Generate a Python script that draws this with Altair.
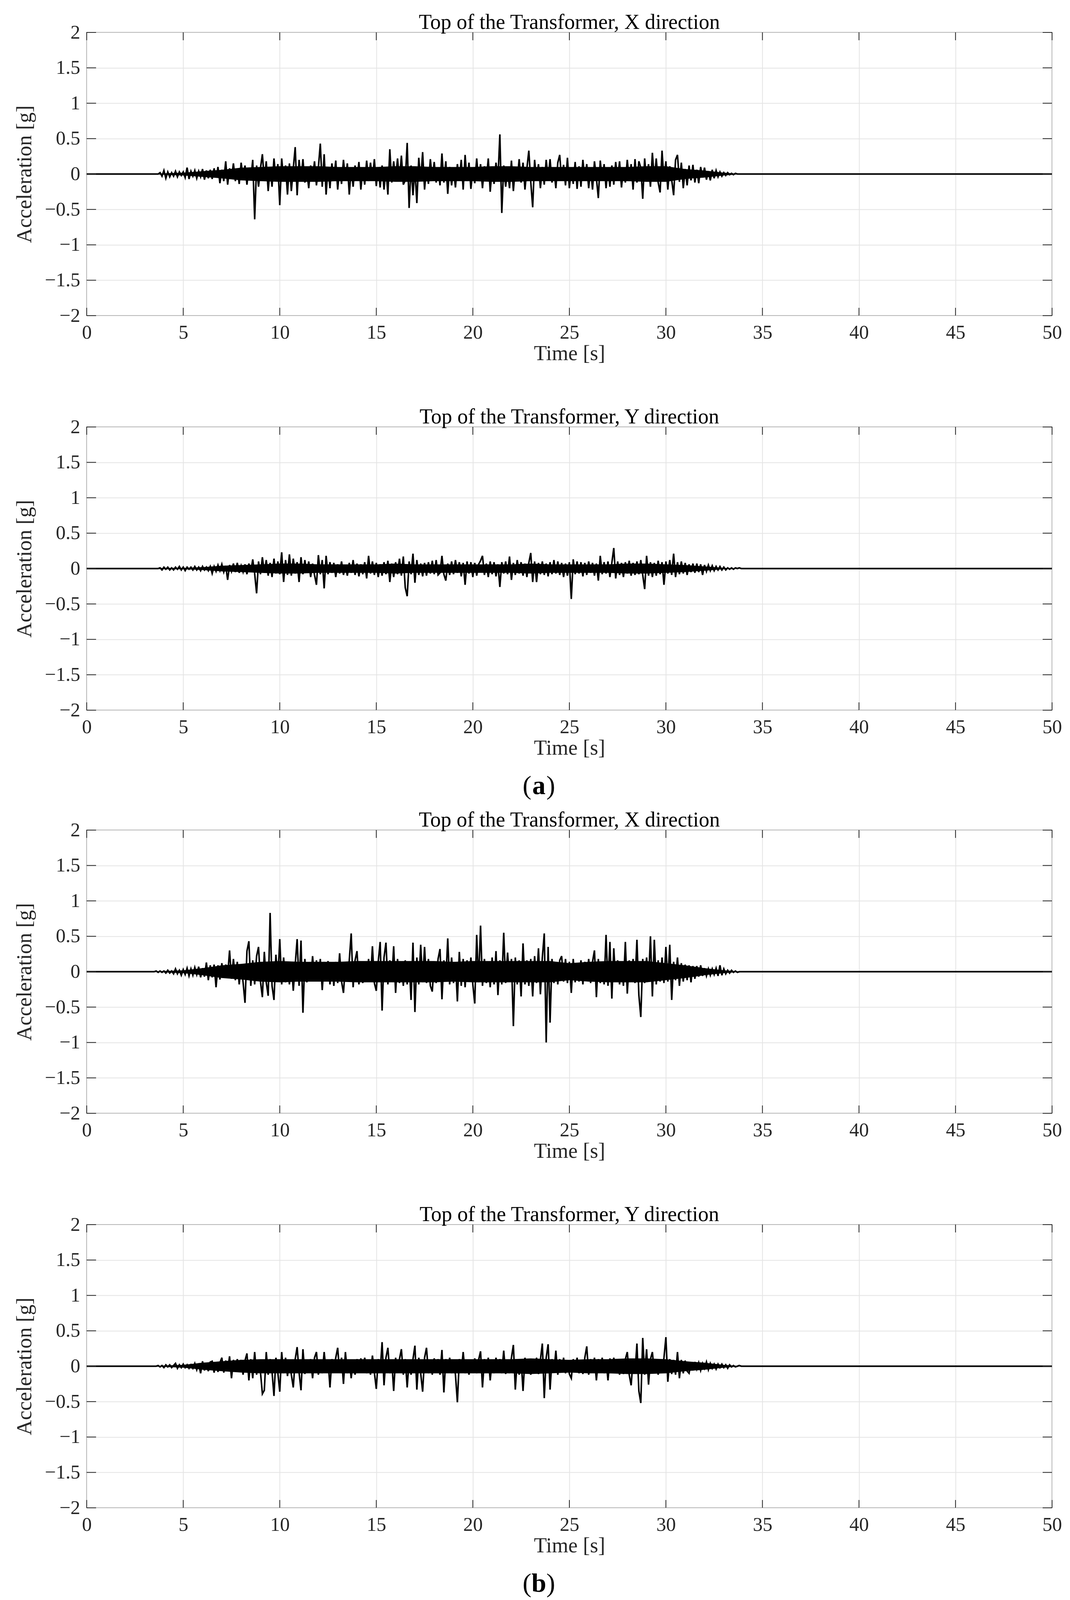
import altair as alt
import pandas as pd

FONT = "Liberation Serif"
INK = "#262626"
W, H = 2472, 725
TICK_LEN_X = 20
TICK_LEN_Y = 24

# sampling grid of the hand-read traces (s); before/after the record the trace sits at 0
T_START = 3.5
T_STEP = 0.1
T_END = 50.0
# grid (s) of the dense oscillation core
CORE_START = 3
CORE_STEP = 1

X_TICKS = [0, 5, 10, 15, 20, 25, 30, 35, 40, 45, 50]
Y_TICKS = [-2, -1.5, -1, -0.5, 0, 0.5, 1, 1.5, 2]

TITLES = [
    "Top of the Transformer, X direction",
    "Top of the Transformer, Y direction",
    "Top of the Transformer, X direction",
    "Top of the Transformer, Y direction",
]
TAGS = ["a", "b"]

# acceleration, in hundredths of g, one row per second (from 3.5 s)
ACC_A_X = [
    0, 0, 0, 2, -3, 5, -6, 3, -4, 2,
    -3, 4, -4, 3, -2, 3, -5, 9, -7, 4,
    -3, 5, -6, 4, -4, 7, -8, 5, -6, 6,
    -7, 8, -5, 10, -13, 6, -10, 18, -15, 8,
    -6, 15, -10, 7, -14, 16, -5, 12, -15, 9,
    -8, 20, -64, 12, -18, 8, 28, -10, 18, -24,
    9, -18, 22, -6, 14, -44, 22, -8, 12, -29,
    15, -24, 8, 38, -30, 20, -9, 21, -12, 6,
    -20, 12, -7, 18, -16, 9, 43, -18, 28, -29,
    10, -20, 15, -8, 19, -22, 7, -14, 20, -9,
    15, -29, 8, -18, 12, -7, 17, -22, 6, -15,
    19, -10, 16, -8, 21, -17, 9, -19, 12, -22,
    8, -29, 35, -12, 18, -7, 22, -10, 26, -15,
    -9, 44, -48, 12, -30, 8, -41, 23, -10, 31,
    -22, 10, -14, 21, -8, 17, -12, 9, -16, 29,
    -12, 18, -28, 10, -16, 8, -19, 14, -7, 20,
    -22, 27, -10, 16, -21, 7, -13, 22, -9, 14,
    -20, 11, -7, 22, -25, 9, -14, 16, -8, 56,
    -55, 12, -18, 7, -20, 19, -24, 10, -8, 21,
    -12, 16, -22, 8, 33, -11, -47, 20, -9, 14,
    -20, 10, -15, 20, -7, 21, -12, 8, -20, 16,
    27, -9, 13, -16, 23, -20, 8, -14, 17, -21,
    11, -18, 20, -7, 14, -20, 9, -22, 18, -6,
    -34, 19, -9, 14, -20, 8, -18, 12, -15, 17,
    -8, 18, -19, 9, -12, 20, -10, 14, -22, 21,
    -12, 18, 9, -35, 22, -10, 14, -18, 30, -9,
    22, -12, -26, 33, -10, 18, -22, 11, -8, -30,
    20, 27, -11, 16, -20, 7, -16, 12, -9, 13,
    -12, 6, -13, 10, -5, 9, -8, 4, -9, 6,
    -6, 5, -4, 3, -3, 2, -2, 2, -1, 1,
    -1, 1, 0, 0, 0, 0,
]

ACC_A_Y = [
    0, 0, 0, 1, -2, 2, -1, 2, -2, 1,
    -2, 2, -1, 3, -2, 2, -3, 2, -1, 2,
    -2, 3, -2, 2, -3, 3, -2, 2, -3, 3,
    -7, 3, -4, 5, -3, 6, -5, 4, -16, 5,
    -4, 7, -5, 8, -6, 4, -5, 6, -8, 7,
    -5, 13, -7, -35, 10, -8, 16, -6, 12, -10,
    8, -12, 14, -7, 10, -8, 23, -19, 12, -9,
    20, -10, 14, -7, 9, -19, 16, -8, 12, -6,
    10, -12, 7, -9, -23, 19, -8, 12, -28, 18,
    -8, 9, -6, 8, -12, 6, -7, 10, -9, 5,
    -10, 8, -6, 12, -9, 7, -11, 6, -8, 9,
    -14, 18, -7, 10, -9, 8, -12, 6, -10, 9,
    -8, 11, -19, 7, -12, 9, -8, 14, -10, 17,
    -27, -39, 10, -8, 21, -20, 12, -9, 7, -11,
    8, -10, 9, -7, 11, -8, 12, -9, -6, 18,
    -8, -17, 7, -9, 10, -8, 12, -6, 9, -11,
    8, -23, 10, -7, 9, -12, 8, -10, 6, 11,
    18, -9, 7, -12, 10, -8, 9, -11, 6, -26,
    9, -7, 10, -8, 17, -16, 8, -9, 12, -7,
    9, -10, 7, -12, 8, 22, -19, 10, -19, 8,
    -8, 10, -9, 7, -11, 9, -8, 12, -7, 10,
    -9, 8, -12, 7, -10, 9, -43, 13, -8, 10,
    -7, 9, -11, 8, -9, 10, -6, 8, -10, 7,
    -17, 18, -8, 9, -7, 10, -12, 8, 29, -14,
    10, -9, 8, -12, 9, -7, 11, -10, 8, -9,
    10, -8, 12, -9, -29, 18, -10, 9, -12, 8,
    -10, 11, -8, 9, -23, 10, -7, 12, -9, 21,
    -12, 9, -8, 10, -7, 8, -9, 6, -5, 7,
    -6, 7, -5, 6, -9, 5, -4, 5, -3, 4,
    -3, 3, -2, 3, -2, 2, -2, 1, -1, 1,
    -1, 1, 0, 1, 0, 0,
]

ACC_B_X = [
    0, 1, -1, 1, -1, 1, -2, 2, -2, 1,
    -3, 4, -3, 2, -5, 3, -4, 5, -6, 4,
    -5, 6, -4, 7, -8, 5, -7, 13, -12, 9,
    -8, 10, -22, 9, -11, 12, -8, 10, -6, 30,
    -10, 18, -12, 14, -18, 10, -15, -44, 29, 43,
    -20, 16, -18, 22, 35, -14, -36, 28, -15, -34,
    83, -20, -40, 24, -12, 46, -18, 20, -15, 12,
    -18, 14, -27, 10, 46, -20, 44, -58, 18, -15,
    12, -14, 22, -10, 16, -12, 18, -26, 14, -12,
    15, -18, 12, -20, 14, -16, 26, -14, -30, 10,
    -12, 16, 54, -22, 16, 29, -18, 14, -16, 12,
    -14, 18, -12, 36, -16, -27, 14, 42, -55, 20,
    41, -18, 16, -14, 36, -30, 18, -16, 14, -20,
    16, -18, 14, -40, 41, -57, 20, -18, 38, -15,
    35, -16, 18, -20, -28, 14, -16, 18, 32, -39,
    16, -14, 47, -18, 20, -16, 14, -42, 28, -20,
    18, -22, 16, -14, 20, -18, -45, 52, -15, 65,
    -20, 18, -16, 14, -22, 20, -18, 29, -33, 16,
    -18, 55, -16, 27, -14, 18, -77, 20, -18, 16,
    -35, 40, -18, 16, -20, 18, -35, 22, -16, 33,
    -32, 20, 54, -100, 35, -72, 18, -16, 14, -18,
    16, 22, -14, 18, -16, 14, -30, 18, -15, 12,
    -14, 16, -18, 14, -12, 18, -16, 14, 30, -36,
    18, -16, 14, -18, 52, -20, 42, -38, 33, -14,
    16, -18, 14, -20, 42, -31, 16, -14, 18, -16,
    45, -33, -64, 18, -16, 20, -14, 50, -35, 45,
    -18, 16, -14, 20, -16, 35, -14, 38, -40, 14,
    -12, 20, -20, 12, -14, 10, -12, 9, -15, 8,
    -10, 8, -7, 9, -6, 5, -6, 4, -5, 4,
    -4, 5, -6, 9, -5, 4, -3, 2, -2, 2,
    -1, 1, -1, 0, 0, 0,
]

ACC_B_Y = [
    0, 0, 1, -1, 1, -2, 2, -1, 2, -2,
    1, 4, -3, 2, -2, 3, -2, 2, -3, 2,
    -3, 4, -5, 4, -10, 7, -6, 5, -7, 6,
    7, -9, 6, -8, 5, 12, -9, 8, -6, 14,
    -17, 9, -7, 10, -8, 9, -12, 8, 18, -20,
    10, -17, 20, -12, 9, -8, -39, -34, 20, -12,
    10, -8, -42, 12, -9, -36, 20, -10, 12, -14,
    9, -12, -30, 10, 27, -9, -34, 24, -11, 9,
    -8, 10, -17, 12, 20, -12, 9, -10, 20, -8,
    9, -30, 10, -8, 12, 26, -9, 12, -25, 20,
    -10, 9, -17, 8, -12, 10, -9, 11, -8, 12,
    -10, 9, -12, 15, -9, -32, 10, -8, 34, -27,
    12, 26, -10, 9, -35, 12, -9, 10, 24, -12,
    10, -30, 9, -12, 10, 29, -33, 12, -10, -36,
    12, 26, -10, 9, -12, 11, -9, 10, -12, 23,
    -37, 10, -9, 12, -10, 9, -12, -51, 10, -9,
    20, -10, 9, -12, 8, -9, 11, -10, 9, 21,
    -30, 10, -9, 12, -20, 9, -10, 12, -9, 10,
    -10, 22, -11, 9, -10, 12, 30, -33, 9, -12,
    10, -35, 12, -9, 10, -12, 9, -10, 12, -11,
    9, 32, -45, 12, 31, -33, 10, -9, 22, -12,
    10, -9, 12, -10, 9, -11, -17, 10, -9, 12,
    -10, 9, -11, 12, 28, -12, 10, -9, 12, -20,
    10, -9, 12, -10, 9, -20, 11, -10, 12, -9,
    10, -12, 9, -11, 10, 20, -12, -27, 10, -9,
    32, -35, -52, 40, -12, 24, -26, 10, 20, -10,
    9, -12, 10, -9, 12, 41, -22, 10, -11, 9,
    -12, 20, -17, 9, -10, 8, -7, -10, 5, -6,
    6, -4, 5, -6, 4, -3, 6, -5, 4, -3,
    3, -4, 3, -2, 3, -2, 2, -3, 2, -1,
    1, -1, 0, 1, 0, 0,
]

# half-width of the solid black oscillation core, hundredths of g, one value per second from 3 s
CORE_A_X = [0, 1, 2, 4, 6, 9, 10, 11, 11, 11, 10, 10, 10, 11, 11, 10, 10, 10, 11, 11, 10, 10, 10, 10, 10, 10, 11, 11, 7, 5, 2, 0, 0]
CORE_A_Y = [0, 1, 1, 2, 4, 5, 6, 7, 7, 6, 6, 6, 6, 7, 6, 6, 6, 6, 6, 6, 7, 6, 6, 6, 6, 7, 7, 6, 5, 3, 1, 0, 0]
CORE_B_X = [0, 1, 2, 5, 9, 11, 14, 15, 14, 14, 14, 15, 15, 15, 15, 15, 14, 15, 15, 15, 15, 15, 12, 14, 15, 15, 15, 12, 9, 5, 2, 0, 0]
CORE_B_Y = [0, 1, 2, 5, 7, 9, 10, 10, 10, 10, 10, 10, 10, 10, 10, 10, 10, 10, 10, 10, 11, 10, 9, 10, 10, 11, 11, 10, 7, 5, 2, 0, 0]

SERIES = [ACC_A_X, ACC_A_Y, ACC_B_X, ACC_B_Y]
CORES = [CORE_A_X, CORE_A_Y, CORE_B_X, CORE_B_Y]

# layout (pixels)
TAG_X = 1158
TAG_HALF = 19
TAG_DY = 215
SPACING_IN = 107
SPACING_OUT = 24
TITLE_OFFSET = -27
FS_TICK, FS_TITLE, FS_TAG = 50, 54, 68


def series_frame(vals):
    t = [0.0] + [round(T_START + T_STEP * i, 2) for i in range(len(vals))] + [T_END]
    a = [0.0] + [v / 100.0 for v in vals] + [0.0]
    return pd.DataFrame({"t": t, "a": a})


def core_frame(core):
    t = [CORE_START + CORE_STEP * i for i in range(len(core))]
    return pd.DataFrame({"t": t, "lo": [-c / 100.0 for c in core], "hi": [c / 100.0 for c in core]})


xscale = alt.Scale(domain=[0, 50], nice=False, zero=False)
yscale = alt.Scale(domain=[-2, 2], nice=False, zero=False)
xaxis = alt.Axis(values=X_TICKS, title="Time [s]", grid=True, format="~g",
                 labelFlush=False, labelOverlap=False)
yaxis = alt.Axis(values=Y_TICKS, title="Acceleration [g]", grid=True, format="~g",
                 labelFlush=False, labelOverlap=False)


def panel(vals, core, title, tag=None):
    X = alt.X("t:Q", scale=xscale, axis=xaxis)
    Y = alt.Y("a:Q", scale=yscale, axis=yaxis)
    band = alt.Chart(core_frame(core)).mark_area(color="black", opacity=1).encode(
        x=X, y=alt.Y("lo:Q", scale=yscale, axis=yaxis), y2="hi:Q"
    )
    line = alt.Chart(series_frame(vals)).mark_line(
        color="black", strokeWidth=4, strokeJoin="miter"
    ).encode(x=X, y=Y)
    xt = alt.Chart(pd.DataFrame({"t": X_TICKS}))
    yt = alt.Chart(pd.DataFrame({"a": Y_TICKS}))
    rule = dict(color=INK, strokeWidth=2)
    top = xt.mark_rule(**rule).encode(x=X, y=alt.value(0), y2=alt.value(TICK_LEN_X))
    bot = xt.mark_rule(**rule).encode(x=X, y=alt.value(H - TICK_LEN_X), y2=alt.value(H))
    left = yt.mark_rule(**rule).encode(y=Y, x=alt.value(0), x2=alt.value(TICK_LEN_Y))
    right = yt.mark_rule(**rule).encode(y=Y, x=alt.value(W - TICK_LEN_Y), x2=alt.value(W))
    layers = [band, line, top, bot, left, right]
    if tag:
        lab = alt.Chart(pd.DataFrame({"k": [0]}))
        txt = dict(font=FONT, fontSize=FS_TAG, baseline="alphabetic", color="black")
        layers += [
            lab.mark_text(text="(", align="right", **txt).encode(
                x=alt.value(TAG_X - TAG_HALF), y=alt.value(H + TAG_DY)),
            lab.mark_text(text=tag, align="center", fontWeight="bold", **txt).encode(
                x=alt.value(TAG_X), y=alt.value(H + TAG_DY)),
            lab.mark_text(text=")", align="left", **txt).encode(
                x=alt.value(TAG_X + TAG_HALF), y=alt.value(H + TAG_DY)),
        ]
    return alt.layer(*layers).properties(
        width=W, height=H,
        title=alt.TitleParams(text=title, font=FONT, fontSize=FS_TITLE, fontWeight="normal",
                              color="black", anchor="middle", frame="group",
                              offset=TITLE_OFFSET),
    )


p = [panel(SERIES[i], CORES[i], TITLES[i], TAGS[i // 2] if i % 2 == 1 else None)
     for i in range(4)]

group_a = alt.vconcat(p[0], p[1], spacing=SPACING_IN)
group_b = alt.vconcat(p[2], p[3], spacing=SPACING_IN)

chart = alt.vconcat(group_a, group_b, spacing=SPACING_OUT).properties(
    padding={"left": 27, "top": 22, "right": 5, "bottom": 2},
    background="white",
).configure(font=FONT).configure_view(
    stroke="#404040", strokeWidth=2
).configure_axis(
    labelFont=FONT, titleFont=FONT, labelFontSize=FS_TICK, titleFontSize=FS_TITLE,
    labelColor=INK, titleColor=INK, titleFontWeight="normal",
    gridColor="#e4e4e4", gridWidth=2, domain=False, ticks=False, tickSize=0,
).configure_axisX(labelPadding=18, titlePadding=2).configure_axisY(
    labelPadding=17, titlePadding=24
)

chart.save("out.html", embed_options={"renderer": "svg", "actions": False})
